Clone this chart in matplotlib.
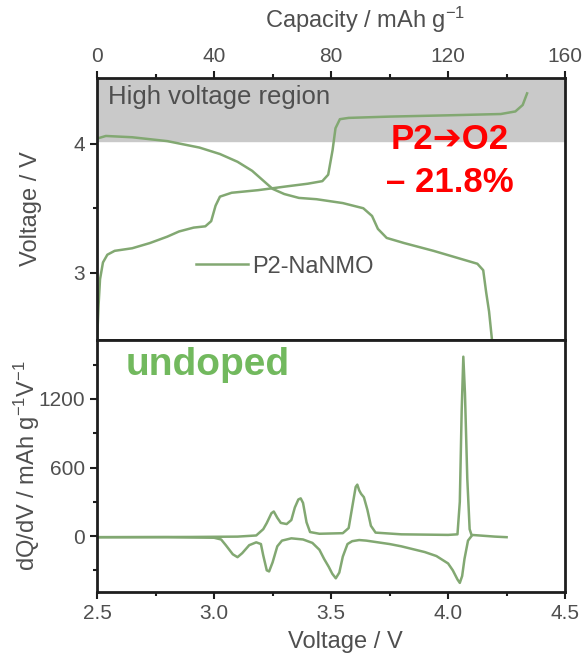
import matplotlib
matplotlib.use('Agg')
import matplotlib.pyplot as plt

plt.rcParams['font.family'] = ['Liberation Sans', 'DejaVu Sans']
plt.rcParams['mathtext.default'] = 'regular'

# galvanostatic curve (capacity / mAh g-1, voltage / V)
cap_charge = [0, 0.5, 1, 2, 3.5, 6, 12, 18, 24, 28, 33, 37, 39, 40.5, 42, 46, 55, 65, 72, 77,
              79, 80.5, 81.5, 83, 86, 100, 120, 138, 143, 145.5, 147]
v_charge = [2.48, 2.75, 2.95, 3.08, 3.14, 3.17, 3.19, 3.23, 3.28, 3.32, 3.35, 3.36, 3.40, 3.52, 3.59,
            3.62, 3.64, 3.67, 3.69, 3.71, 3.76, 3.95, 4.12, 4.19, 4.20, 4.21, 4.22, 4.23, 4.25, 4.30, 4.39]
cap_dis = [0, 3, 12, 24, 35, 42, 48, 53, 57, 60, 64, 69, 75, 84, 91, 94, 96, 99, 105, 115, 124,
           130, 132, 133, 134, 135]
v_dis = [4.04, 4.06, 4.05, 4.02, 3.97, 3.92, 3.86, 3.79, 3.71, 3.65, 3.61, 3.58, 3.57, 3.54, 3.50,
         3.44, 3.34, 3.27, 3.23, 3.17, 3.11, 3.07, 3.02, 2.85, 2.70, 2.48]

# dQ/dV curve
dv_v_charge = [2.5, 2.9, 3.1, 3.18, 3.21, 3.225, 3.245, 3.255, 3.27, 3.285, 3.31, 3.33, 3.345, 3.36,
               3.37, 3.38, 3.395, 3.41, 3.45, 3.55, 3.575, 3.59, 3.605, 3.612, 3.62, 3.628, 3.64,
               3.655, 3.67, 3.69, 3.8, 4.0, 4.04, 4.05, 4.058, 4.065, 4.072, 4.082, 4.092, 4.1, 4.2, 4.25]
dqdv_charge = [-10, -8, -5, 5, 60, 114, 200, 215, 160, 115, 105, 140, 250, 320, 330, 290, 120, 35,
               20, 25, 70, 250, 430, 450, 400, 370, 340, 230, 90, 30, 15, 10, 15, 300, 1100, 1570,
               1250, 500, 60, 10, -5, -10]
dv_v_dis = [4.1, 4.085, 4.07, 4.06, 4.05, 4.04, 4.02, 4.0, 3.95, 3.9, 3.85, 3.8, 3.75, 3.7, 3.65,
            3.62, 3.59, 3.57, 3.55, 3.535, 3.52, 3.505, 3.49, 3.47, 3.45, 3.42, 3.38, 3.33, 3.29,
            3.27, 3.25, 3.235, 3.225, 3.21, 3.2, 3.18, 3.15, 3.12, 3.1, 3.08, 3.05, 3.03, 3.0, 2.8, 2.5]
dqdv_dis = [0, -40, -200, -350, -410, -380, -300, -240, -175, -140, -115, -90, -70, -55, -40,
            -35, -45, -70, -180, -320, -370, -330, -270, -200, -120, -60, -30, -20, -40,
            -90, -230, -310, -300, -170, -70, -55, -80, -150, -185, -160, -80, -30, -15, -10, -10]

line_c = '#82a872'
txt_c = '#4f4f4f'
spine_c = '#1e1e1e'

fig = plt.figure(figsize=(5.85, 6.6), dpi=100)
ax1 = fig.add_axes([0.166, 0.485, 0.800, 0.397])
ax2 = fig.add_axes([0.166, 0.103, 0.800, 0.382])

for ax in (ax1, ax2):
    for s in ax.spines.values():
        s.set_linewidth(2)
        s.set_color(spine_c)
    ax.tick_params(which='both', direction='out', colors=spine_c, labelcolor=txt_c,
                   labelsize=15, width=1.5)
    ax.tick_params(which='major', length=5)
    ax.tick_params(which='minor', length=3)

# top panel
ax1.axhspan(4.02, 4.6, color='#c9c9c9', zorder=0)
ax1.plot(cap_charge, v_charge, color=line_c, lw=1.8, label='P2-NaNMO')
ax1.plot(cap_dis, v_dis, color=line_c, lw=1.8)
ax1.set_xlim(0, 160)
ax1.set_ylim(2.48, 4.51)
ax1.xaxis.tick_top()
ax1.xaxis.set_label_position('top')
ax1.set_xticks([0, 40, 80, 120, 160])
ax1.set_xticks([20, 60, 100, 140], minor=True)
ax1.set_yticks([3, 4])
ax1.set_yticks([3.5], minor=True)
ax1.tick_params(axis='x', which='both', bottom=False, top=True)
ax1.set_xlabel('Capacity / mAh g$^{-1}$', fontsize=17, color=txt_c)
ax1.xaxis.set_label_coords(0.573, 1.19)
ax1.set_ylabel('Voltage / V', fontsize=17, color=txt_c)
ax1.yaxis.set_label_coords(-0.118, 0.5)
ax1.text(3.8, 4.36, 'High voltage region', fontsize=18.5, color=txt_c, va='center')
ax1.text(120.5, 4.03, 'P2\u2794O2', fontsize=25, color='#ff0000', fontweight='bold',
         ha='center', va='center')
ax1.text(120.5, 3.70, '\u2013 21.8%', fontsize=25, color='#ff0000', fontweight='bold',
         ha='center', va='center')
ax1.legend(loc='center left', bbox_to_anchor=(0.165, 0.28), frameon=False, fontsize=17,
           handlelength=2.2, handletextpad=0.2, labelcolor=txt_c)

# bottom panel
ax2.plot(dv_v_charge, dqdv_charge, color=line_c, lw=1.8)
ax2.plot(dv_v_dis, dqdv_dis, color=line_c, lw=1.8)
ax2.set_xlim(2.5, 4.5)
ax2.set_ylim(-490, 1717)
ax2.set_xticks([2.5, 3.0, 3.5, 4.0, 4.5])
ax2.set_xticklabels(['2.5', '3.0', '3.5', '4.0', '4.5'])
ax2.set_xticks([2.75, 3.25, 3.75, 4.25], minor=True)
ax2.set_yticks([0, 600, 1200])
ax2.set_yticks([-300, 300, 900, 1500], minor=True)
ax2.set_xlabel('Voltage / V', fontsize=17, color=txt_c)
ax2.xaxis.set_label_coords(0.53, -0.155)
ax2.set_ylabel('dQ/dV / mAh g$^{-1}$V$^{-1}$', fontsize=17, color=txt_c)
ax2.yaxis.set_label_coords(-0.118, 0.5)
ax2.text(2.62, 1500, 'undoped', fontsize=28, color='#72b95e', fontweight='bold', va='center')

fig.savefig('out.png', dpi=100)
